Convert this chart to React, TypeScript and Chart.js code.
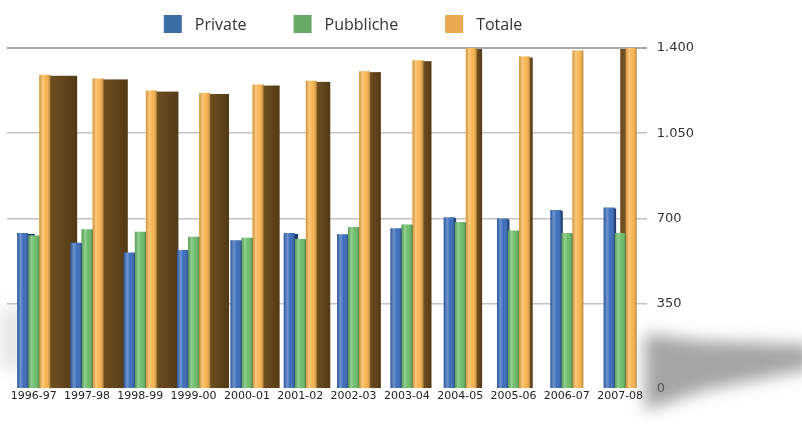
import React, { useEffect, useRef } from "react";
import { Chart, registerables } from "chart.js";

Chart.register(...registerables);

const categories = [
  "1996-97", "1997-98", "1998-99", "1999-00", "2000-01", "2001-02",
  "2002-03", "2003-04", "2004-05", "2005-06", "2006-07", "2007-08",
];
const seriesNames = ["Private", "Pubbliche", "Totale"];
const privateValues = [640, 600, 560, 570, 610, 640, 635, 660, 705, 700, 735, 745];
const pubblicheValues = [630, 655, 645, 625, 620, 615, 665, 675, 685, 650, 640, 640];
const totaleValues = [1290, 1275, 1225, 1215, 1250, 1265, 1305, 1350, 1400, 1365, 1390, 1400];
const yTicks = [0, 350, 700, 1050, 1400];

const frontColors = ["#3a6dbb", "#6cbd69", "#f8b44e"];
const sideColors = ["#1d3d72", "#2f7033", "#6e4f20"];
const legendColors = ["#3a6ea5", "#68a967", "#eaa84f"];

const formatIt = (v: number) => {
  if (v >= 1000) {
    const t = Math.floor(v / 1000);
    const r = String(Math.round(v % 1000)).padStart(3, "0");
    return `${t}.${r}`;
  }
  return String(v);
};

const depthFor = (dsIndex: number, i: number) => {
  const base = 27 - 2.7 * i;
  if (dsIndex === 2) return base;
  return Math.max(1.5, base * 0.25);
};

const shadowPlugin = {
  id: "shadow3d",
  beforeDatasetsDraw(chart: any) {
    const { ctx, chartArea } = chart;
    const r = chartArea.right;
    const b = chartArea.bottom;
    ctx.save();
    ctx.filter = "blur(8px)";
    ctx.fillStyle = "rgba(105,105,105,0.6)";
    ctx.beginPath();
    ctx.moveTo(r - 2, b - 55);
    ctx.lineTo(r + 55, b - 48);
    ctx.lineTo(chart.width + 10, b - 44);
    ctx.lineTo(chart.width + 10, b - 20);
    ctx.lineTo(r + 55, b + 2);
    ctx.lineTo(r - 2, b + 22);
    ctx.closePath();
    ctx.fill();
    ctx.fillStyle = "rgba(150,150,150,0.3)";
    ctx.beginPath();
    ctx.moveTo(chartArea.left - 4, b - 78);
    ctx.lineTo(chartArea.left + 14, b - 82);
    ctx.lineTo(chartArea.left + 14, b - 20);
    ctx.lineTo(chartArea.left - 4, b - 20);
    ctx.closePath();
    ctx.fill();
    ctx.restore();

    // side faces
    ctx.save();
    chart.data.datasets.forEach((_: any, di: number) => {
      const meta = chart.getDatasetMeta(di);
      meta.data.forEach((el: any, i: number) => {
        const p = el.getProps(["x", "y", "base", "width"], true);
        const left = p.x - p.width / 2;
        const right = p.x + p.width / 2;
        const d = depthFor(di, i);
        const top = p.y + 1;
        const h = p.base - top;
        if (d >= 0) {
          const g = ctx.createLinearGradient(right, 0, right + d, 0);
          g.addColorStop(0, sideColors[di]);
          g.addColorStop(1, di === 2 ? "#523915" : sideColors[di]);
          ctx.fillStyle = g;
          ctx.fillRect(right - 1, top, d + 1, h);
        } else {
          ctx.fillStyle = sideColors[di];
          ctx.fillRect(left + d * 2, top, -d * 2 + 1, h);
        }
      });
    });
    ctx.restore();
  },
  afterDatasetsDraw(chart: any) {
    const { ctx } = chart;
    ctx.save();
    chart.data.datasets.forEach((_: any, di: number) => {
      const meta = chart.getDatasetMeta(di);
      meta.data.forEach((el: any) => {
        const p = el.getProps(["x", "y", "base", "width"], true);
        const left = p.x - p.width / 2;
        const g = ctx.createLinearGradient(left, 0, left + p.width, 0);
        g.addColorStop(0, "rgba(0,0,0,0.12)");
        g.addColorStop(0.3, "rgba(255,255,255,0.28)");
        g.addColorStop(0.6, "rgba(255,255,255,0)");
        g.addColorStop(1, "rgba(0,0,0,0.28)");
        ctx.fillStyle = g;
        ctx.fillRect(left, p.y, p.width, p.base - p.y);
      });
    });
    ctx.restore();
  },
};

const legendPlugin = {
  id: "customLegend",
  afterDraw(chart: any) {
    const { ctx } = chart;
    const box = 18;
    const gapText = 13;
    const gapItem = 47;
    const cx = 343;
    const cy = 24;
    ctx.save();
    ctx.font = "16px 'Open Sans'";
    ctx.textBaseline = "middle";
    ctx.textAlign = "left";
    const widths = chart.data.datasets.map((ds: any) => ctx.measureText(ds.label).width);
    const total =
      widths.reduce((a: number, w: number) => a + box + gapText + w, 0) +
      gapItem * (widths.length - 1);
    let x = cx - total / 2;
    chart.data.datasets.forEach((ds: any, i: number) => {
      ctx.fillStyle = legendColors[i];
      ctx.fillRect(x, cy - box / 2, box, box);
      ctx.fillStyle = "#333333";
      ctx.fillText(ds.label, x + box + gapText, cy + 1);
      x += box + gapText + widths[i] + gapItem;
    });
    ctx.restore();
  },
};

export default function App() {
  const ref = useRef<HTMLCanvasElement | null>(null);
  useEffect(() => {
    document.body.style.margin = "0";
    document.body.style.overflow = "hidden";
    document.body.style.background = "#ffffff";
    if (!ref.current) return;
    const chart = new Chart(ref.current, {
      type: "bar",
      data: {
        labels: categories,
        datasets: [
          { label: seriesNames[0], data: privateValues, backgroundColor: frontColors[0] },
          { label: seriesNames[1], data: pubblicheValues, backgroundColor: frontColors[1] },
          { label: seriesNames[2], data: totaleValues, backgroundColor: frontColors[2] },
        ],
      },
      options: {
        animation: false,
        responsive: false,
        devicePixelRatio: 1,
        layout: { padding: { left: 7, right: 98, top: 48, bottom: 20 } },
        datasets: { bar: { categoryPercentage: 0.62, barPercentage: 1.0 } },
        plugins: {
          legend: { display: false },
          tooltip: { enabled: false },
        },
        scales: {
          x: {
            grid: { display: false, drawTicks: false },
            border: { display: false },
            ticks: {
              autoSkip: false,
              maxRotation: 0,
              minRotation: 0,
              padding: 1,
              color: "#222222",
              font: { family: "'DejaVu Sans'", size: 11 },
            },
          },
          y: {
            position: "right",
            min: 0,
            max: 1400,
            afterBuildTicks: (axis: any) => {
              axis.ticks = yTicks.map((v) => ({ value: v }));
            },
            border: { display: false },
            grid: {
              drawTicks: false,
              color: (c: any) =>
                c.tick && c.tick.value === 1400
                  ? "#a8a8a8"
                  : c.tick && c.tick.value === 0
                  ? "rgba(0,0,0,0)"
                  : "#c8c1c1",
              lineWidth: (c: any) => (c.tick && c.tick.value === 1400 ? 2 : 1.5),
            },
            ticks: {
              padding: 10,
              color: "#333333",
              font: { family: "'DejaVu Sans'", size: 13 },
              callback: (v: any) => formatIt(Number(v)),
            },
          },
        },
      },
      plugins: [shadowPlugin, legendPlugin],
    });
    return () => chart.destroy();
  }, []);
  return <canvas ref={ref} width={802} height={424} style={{ display: "block" }} />;
}
